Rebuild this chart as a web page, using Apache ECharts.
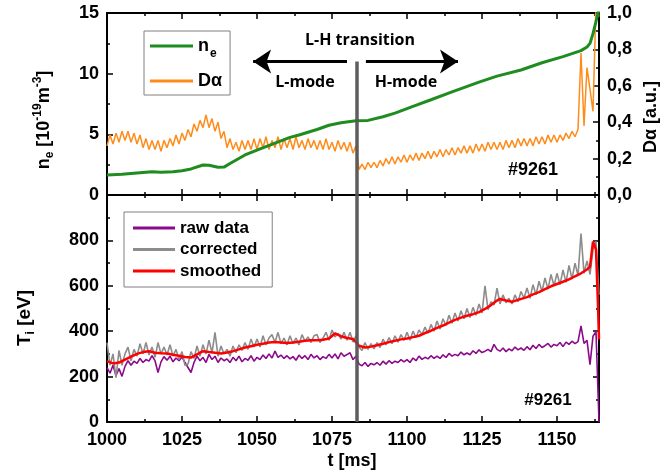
<!DOCTYPE html>
<html><head><meta charset="utf-8">
<script src="https://cdn.jsdelivr.net/npm/echarts@6/dist/echarts.min.js"></script>
<style>html,body{margin:0;padding:0;background:#fff}#c{width:660px;height:475px}</style>
</head><body><div id="c"></div>
<script>
// ---------- DATA ----------
const tMin = 1000, tMax = 1164, tStep = 1;       // sampling grid of dense traces
const transitionT = 1083.3;                      // L-H transition time [ms]
const xTickLabels = [1000, 1025, 1050, 1075, 1100, 1125, 1150];
const neTicks = [0, 5, 10, 15];
const daTicks = [0, 0.2, 0.4, 0.6, 0.8, 1.0];
const tiTicks = [0, 200, 400, 600, 800];

// n_e [1e19 m^-3] (smooth trace, time / value)
const neT = [1000,1005,1010,1015,1018,1022,1025,1028,1032,1034,1037,1039,1041,1046,1050,1056,1061,1064,1070,1074,1078,1083,1087,1092,1096,1102,1108,1115,1124,1130,1138,1145,1152,1158,1160,1161,1162,1163,1164];
const neV = [1.65,1.72,1.82,1.92,1.88,1.92,2.0,2.15,2.47,2.45,2.28,2.3,2.6,3.3,3.7,4.28,4.75,4.95,5.4,5.75,5.95,6.12,6.15,6.45,6.75,7.3,7.85,8.5,9.3,9.8,10.3,10.9,11.4,11.9,12.2,12.5,13.3,14.3,15.3];

// D-alpha [a.u.], one value per ms from 1000 to 1164
const dAlpha = [
 0.27,0.33,0.28,0.34,0.29,0.35,0.30,0.35,0.29,0.34,
 0.28,0.33,0.26,0.31,0.25,0.30,0.25,0.30,0.24,0.30,
 0.26,0.31,0.27,0.33,0.28,0.34,0.30,0.36,0.32,0.39,
 0.35,0.41,0.37,0.44,0.37,0.42,0.35,0.40,0.31,0.35,
 0.26,0.31,0.25,0.29,0.24,0.30,0.25,0.30,0.25,0.31,
 0.25,0.31,0.26,0.32,0.25,0.30,0.26,0.32,0.25,0.31,
 0.26,0.31,0.25,0.32,0.26,0.30,0.25,0.31,0.26,0.30,
 0.25,0.30,0.25,0.31,0.25,0.29,0.24,0.30,0.25,0.29,
 0.24,0.29,0.23,0.27,
 0.14,0.17,0.14,0.18,0.15,0.18,
 0.15,0.19,0.16,0.20,0.17,0.21,0.17,0.21,0.18,0.22,
 0.18,0.22,0.19,0.23,0.19,0.23,0.20,0.24,0.20,0.24,
 0.21,0.25,0.21,0.25,0.22,0.26,0.22,0.26,0.23,0.27,
 0.23,0.27,0.23,0.28,0.24,0.28,0.24,0.29,0.25,0.29,
 0.25,0.29,0.25,0.30,0.26,0.30,0.26,0.31,0.27,0.31,
 0.27,0.31,0.27,0.32,0.28,0.32,0.28,0.33,0.29,0.33,
 0.29,0.33,0.30,0.34,0.31,0.35,0.32,0.36,0.78,0.38,
 0.70,0.58,0.46,1.05,0.98
];

// T_i raw data [eV], one value per ms
const tiRaw = [
 240,215,250,205,235,201,245,270,250,268,
 258,280,262,275,268,292,270,218,265,288,
 272,290,265,282,270,286,262,240,218,262,
 290,270,285,262,298,275,290,262,282,270,
 278,262,285,270,290,265,280,272,292,268,
 285,275,295,280,300,282,312,285,295,280,
 292,278,288,272,295,280,292,275,298,282,
 292,275,288,280,298,282,300,278,305,290,
 297,305,275,290,
 255,248,262,245,258,252,
 262,250,268,255,270,258,268,262,275,265,
 275,262,282,270,290,276,285,278,292,280,
 290,280,296,284,302,290,298,292,308,296,
 304,296,314,302,318,306,312,320,310,342,
 320,312,326,310,322,314,330,318,326,316,
 332,318,338,324,342,328,336,346,330,342,
 336,350,332,352,342,356,345,354,423,346,
 360,253,378,398,0
];

// T_i corrected [eV], one value per ms
const tiCorr = [
 350,250,300,195,315,250,300,330,270,320,
 290,345,300,350,295,330,285,350,300,330,
 295,340,290,320,275,310,250,255,310,280,
 335,290,340,300,360,305,395,290,335,300,
 320,290,335,305,340,315,350,320,365,330,
 365,330,380,340,370,385,350,395,345,370,
 340,380,345,370,340,385,355,375,350,380,
 385,350,370,395,360,405,375,390,365,395,
 360,395,352,380,
 330,315,350,320,345,322,
 350,328,365,340,372,345,380,352,385,360,
 395,360,400,372,405,385,418,392,430,400,
 445,410,455,425,470,435,480,445,490,455,
 500,460,505,470,520,480,600,495,530,515,
 590,520,560,525,545,520,560,530,575,545,
 590,545,605,560,620,575,635,585,650,600,
 655,605,670,615,690,630,700,645,830,655,
 710,650,760,795,560
];

// T_i smoothed [eV] (time / value)
const smT = [1000,1002,1004,1006,1008,1010,1012,1014,1016,1018,1020,1022,1024,1026,1028,1030,1032,1034,1036,1038,1040,1042,1044,1046,1048,1050,1052,1054,1056,1058,1060,1062,1064,1066,1068,1070,1072,1074,1076,1078,1080,1082,1084,1086,1088,1090,1092,1094,1096,1098,1100,1102,1104,1106,1108,1110,1112,1114,1116,1118,1120,1122,1124,1126,1128,1130,1131,1133,1135,1137,1140,1142,1144,1146,1148,1150,1152,1154,1156,1158,1160,1161,1162,1163,1163.7,1164];
const smV = [268,258,262,275,288,300,308,312,305,303,302,296,292,286,284,298,312,308,305,302,306,312,320,328,334,340,345,350,352,350,348,350,354,358,360,360,362,368,390,378,370,366,336,328,332,338,345,352,358,364,368,374,380,392,402,415,425,438,450,460,468,475,484,498,515,535,542,535,530,538,550,562,572,585,598,608,618,628,642,655,672,684,795,760,500,364];

// ---------- CHART ----------
const pairs = (ts, vs) => vs.map((v, i) => [ts[i], v]);
const onGrid = vs => vs.map((v, i) => [tMin + i * tStep, v]);

const FONT = '"Liberation Sans", Arial, sans-serif';
const FONT2 = '"Open Sans", sans-serif';
const black = '#000';
const axisLine = {show: true, onZero: false, lineStyle: {color: black, width: 2}};
const tick = {show: true, inside: true, length: 6, lineStyle: {color: black, width: 1.5}};
const minor = {show: true, splitNumber: 2, length: 3, lineStyle: {color: black, width: 1.5}};
const lbl = {fontFamily: FONT, fontWeight: 'bold', fontSize: 18, color: black};

function xAx(gridIndex, position, showLabel) {
  return {
    type: 'value', gridIndex, position, min: tMin, max: tMax, interval: 25,
    axisLine, axisTick: tick, minorTick: minor, splitLine: {show: false},
    axisLabel: Object.assign({show: showLabel, margin: 9,
      formatter: v => xTickLabels.includes(v) ? String(v) : ''}, lbl)
  };
}
function yAx(gridIndex, position, min, max, interval, showLabel, fmt) {
  return {
    type: 'value', gridIndex, position, min, max, interval,
    axisLine, axisTick: tick, minorTick: minor, splitLine: {show: false},
    axisLabel: Object.assign({show: showLabel, margin: 8, formatter: fmt}, lbl)
  };
}

const option = {
  animation: false,
  backgroundColor: '#fff',
  grid: [
    {left: 107, right: 61, top: 13, height: 182},
    {left: 107, right: 61, top: 195, height: 227}
  ],
  xAxis: [
    xAx(0, 'bottom', false), xAx(0, 'top', false),
    xAx(1, 'bottom', true), xAx(1, 'top', false)
  ],
  yAxis: [
    yAx(0, 'left', 0, 15, 5, true, v => neTicks.includes(v) ? String(v) : ''),
    yAx(0, 'right', 0, 1, 0.2, true, v => {
      const k = daTicks.find(d => Math.abs(d - v) < 1e-6);
      return k === undefined ? '' : k.toFixed(1).replace('.', ',');
    }),
    yAx(1, 'left', 0, 1000, 200, true, v => tiTicks.includes(v) ? String(v) : ''),
    yAx(1, 'right', 0, 1000, 200, false)
  ],
  legend: [
    {
      data: ['ne', 'Dα'], orient: 'vertical', left: 144, top: 31,
      padding: [6, 8, 5, 6], itemGap: 12, itemWidth: 43, itemHeight: 3, icon: 'rect',
      borderColor: '#808080', borderWidth: 1, selectedMode: false,
      formatter: n => n === 'ne' ? '{m|n}{s|e}' : '{m|Dα}',
      textStyle: {
        fontFamily: FONT, fontWeight: 'bold', fontSize: 18, color: black,
        rich: {
          m: {fontFamily: FONT, fontWeight: 'bold', fontSize: 18, lineHeight: 20, color: black},
          s: {fontFamily: FONT, fontWeight: 'bold', fontSize: 12, lineHeight: 12, verticalAlign: 'bottom', color: black, padding: [0, 0, -4, 1]}
        }
      }
    },
    {
      data: ['raw data', 'corrected', 'smoothed'], orient: 'vertical', left: 124, top: 212,
      padding: [7, 11, 7, 9], itemGap: 3.5, itemWidth: 42, itemHeight: 3, icon: 'rect',
      borderColor: '#808080', borderWidth: 1, selectedMode: false,
      textStyle: {fontFamily: FONT, fontWeight: 'bold', fontSize: 17, lineHeight: 18, color: black}
    }
  ],
  series: [
    {
      name: 'Dα', type: 'line', xAxisIndex: 0, yAxisIndex: 1, data: onGrid(dAlpha),
      symbol: 'none', lineStyle: {color: '#ff8c1a', width: 1.5}, itemStyle: {color: '#ff8c1a'}, z: 2,
      markLine: {
        silent: true, animation: false, symbol: ['none', 'arrow'], symbolSize: 18,
        label: {show: false}, lineStyle: {color: black, width: 3, type: 'solid'},
        data: [
          [{coord: [1080, 0.733]}, {coord: [1048.7, 0.733]}],
          [{coord: [1086.3, 0.733]}, {coord: [1117, 0.733]}]
        ]
      }
    },
    {
      name: 'ne', type: 'line', xAxisIndex: 0, yAxisIndex: 0, data: pairs(neT, neV),
      symbol: 'none', lineStyle: {color: '#1e8c1e', width: 3}, itemStyle: {color: '#1e8c1e'}, z: 3,
      markLine: {
        silent: true, animation: false, symbol: 'none', label: {show: false},
        lineStyle: {color: '#555', width: 3.5, type: 'solid', opacity: 0.95},
        data: [[{coord: [transitionT, 0]}, {coord: [transitionT, 11]}]]
      }
    },
    {
      name: 'raw data', type: 'line', xAxisIndex: 2, yAxisIndex: 2, data: onGrid(tiRaw),
      symbol: 'none', lineStyle: {color: '#8b0a8b', width: 1.6}, itemStyle: {color: '#8b0a8b'}, z: 2
    },
    {
      name: 'corrected', type: 'line', xAxisIndex: 2, yAxisIndex: 2, data: onGrid(tiCorr),
      symbol: 'none', lineStyle: {color: '#8c8c8c', width: 1.6}, itemStyle: {color: '#8c8c8c'}, z: 3
    },
    {
      name: 'smoothed', type: 'line', xAxisIndex: 2, yAxisIndex: 2, data: pairs(smT, smV),
      symbol: 'none', lineStyle: {color: '#ff0000', width: 2.5}, itemStyle: {color: '#ff0000'}, z: 4,
      markLine: {
        silent: true, animation: false, symbol: 'none', label: {show: false},
        lineStyle: {color: '#555', width: 3.5, type: 'solid', opacity: 0.95},
        data: [[{coord: [transitionT, 0]}, {coord: [transitionT, 1000]}]]
      }
    }
  ],
  graphic: [
    {type: 'text', x: 360, y: 40, style: {text: 'L-H transition', font: 'bold 16px ' + FONT2, fill: black, align: 'center', verticalAlign: 'middle'}},
    {type: 'text', x: 305, y: 82, style: {text: 'L-mode', font: 'bold 16px ' + FONT2, fill: black, align: 'center', verticalAlign: 'middle'}},
    {type: 'text', x: 406, y: 82, style: {text: 'H-mode', font: 'bold 16px ' + FONT2, fill: black, align: 'center', verticalAlign: 'middle'}},
    {type: 'text', x: 533, y: 170, style: {text: '#9261', font: 'bold 18px ' + FONT, fill: black, align: 'center', verticalAlign: 'middle'}},
    {type: 'text', x: 548, y: 400, style: {text: '#9261', font: 'bold 17px ' + FONT, fill: black, align: 'center', verticalAlign: 'middle'}},
    {type: 'text', x: 352, y: 461, style: {text: 't [ms]', font: 'bold 18px ' + FONT, fill: black, align: 'center', verticalAlign: 'middle'}},
    {type: 'text', x: 44, y: 120, rotation: Math.PI / 2, style: {
      text: '{m|n}{s|e}{m| [10}{p|-19}{m|m}{p|-3}{m|]}', align: 'center', verticalAlign: 'middle',
      font: 'bold 18px ' + FONT, fill: black,
      rich: {
        m: {font: 'bold 18px ' + FONT, fill: black, lineHeight: 24},
        s: {font: 'bold 12px ' + FONT, fill: black, lineHeight: 12, verticalAlign: 'bottom'},
        p: {font: 'bold 12px ' + FONT, fill: black, lineHeight: 12, verticalAlign: 'top'}
      }}},
    {type: 'text', x: 651, y: 117, rotation: Math.PI / 2, style: {
      text: 'Dα [a.u.]', font: 'bold 18px ' + FONT, fill: black, align: 'center', verticalAlign: 'middle'}},
    {type: 'text', x: 25, y: 318, rotation: Math.PI / 2, style: {
      text: '{m|T}{s|i}{m| [eV]}', align: 'center', verticalAlign: 'middle',
      font: 'bold 19px ' + FONT, fill: black,
      rich: {
        m: {font: 'bold 19px ' + FONT, fill: black, lineHeight: 24},
        s: {font: 'bold 12px ' + FONT, fill: black, lineHeight: 12, verticalAlign: 'bottom'}
      }}}
  ]
};
echarts.init(document.getElementById('c'), null, {renderer: 'canvas'}).setOption(option);
</script>
</body></html>
